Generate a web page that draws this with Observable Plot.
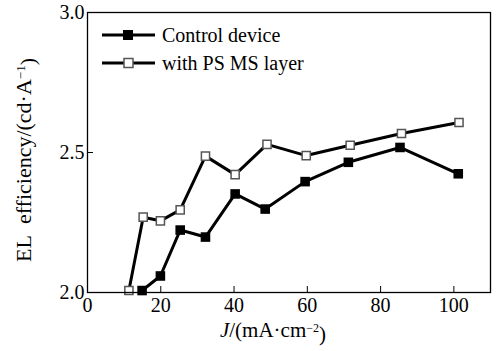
<!DOCTYPE html>
<html><head><meta charset="utf-8">
<script src="https://cdn.jsdelivr.net/npm/d3@7"></script>
<script src="https://cdn.jsdelivr.net/npm/@observablehq/plot@0.6"></script>
<style>
body{margin:0;background:#fff}
svg, svg text { font-family: "Liberation Serif", "DejaVu Serif", serif !important; }
</style>
</head><body><div id="chart"></div>
<script>
const controlJ   = [14.9, 19.9, 25.3, 32.2, 40.3, 48.5, 59.4, 71.2, 85.3, 101.2];
const controlEff = [2.007, 2.059, 2.223, 2.198, 2.352, 2.298, 2.396, 2.465, 2.518, 2.424];
const psJ   = [11.3, 15.2, 19.9, 25.3, 32.2, 40.3, 49.0, 59.7, 71.7, 85.7, 101.4];
const psEff = [2.007, 2.269, 2.256, 2.295, 2.487, 2.421, 2.529, 2.489, 2.526, 2.568, 2.607];
const xTicks = [0, 20, 40, 60, 80, 100];
const yTicks = [2.0, 2.5, 3.0];
const seriesNames = ["Control device", "with PS MS layer"];

const control = controlJ.map((j, i) => ({j, e: controlEff[i]}));
const ps = psJ.map((j, i) => ({j, e: psEff[i]}));

const W = 500, H = 351, mL = 87, mR = 10, mT = 12, mB = 59;
const innerW = W - mL - mR, innerH = H - mT - mB;
const font = "Liberation Serif, DejaVu Serif, serif";

const plot = Plot.plot({
  width: W, height: H,
  marginLeft: mL, marginRight: mR, marginTop: mT, marginBottom: mB,
  style: {fontFamily: font, background: "#fff", color: "#000", overflow: "visible"},
  x: {domain: [0, 110]},
  y: {domain: [2, 3]},
  marks: [
    Plot.ruleX(xTicks.slice(1), {insetTop: innerH - 6, stroke: "#000", strokeWidth: 1}),
    Plot.ruleY(yTicks.slice(1, 2), {insetRight: innerW - 6, stroke: "#000", strokeWidth: 1}),
    Plot.axisX({ticks: xTicks, tickSize: 0, tickPadding: 5, fontSize: 20, label: null, tickFormat: d => String(d)}),
    Plot.axisY({ticks: yTicks, tickSize: 0, tickPadding: 3, fontSize: 20, label: null, tickFormat: d3.format(".1f")}),
    Plot.line(ps, {x: "j", y: "e", stroke: "#000", strokeWidth: 3}),
    Plot.line(control, {x: "j", y: "e", stroke: "#000", strokeWidth: 3}),
    Plot.dot(ps, {x: "j", y: "e", symbol: "square", r: 4.6, fill: "#fff", stroke: "#555", strokeWidth: 1.5}),
    Plot.dot(control, {x: "j", y: "e", symbol: "square", r: 5.4, fill: "#000", stroke: "none"}),
    Plot.frame({stroke: "#000", strokeWidth: 1.3})
  ]
});
document.getElementById("chart").append(plot);

const svg = d3.select(plot);
// Y axis label
const yl = svg.append("text")
  .attr("transform", "translate(31,160) rotate(-90)")
  .attr("text-anchor", "middle")
  .style("font-size", "22px").attr("fill", "#000");
yl.append("tspan").text("EL\u00a0\u00a0efficiency/(cd\u00b7A");
yl.append("tspan").attr("dy", "-0.45em").style("font-size", "13px").text("\u22121");
yl.append("tspan").attr("dy", "0.45em").text(")");

// X axis label
const xl = svg.append("text")
  .attr("x", 273).attr("y", 337)
  .attr("text-anchor", "middle")
  .style("font-size", "21px").attr("fill", "#000");
xl.append("tspan").style("font-style", "italic").text("J");
xl.append("tspan").text("/(mA\u00b7cm");
xl.append("tspan").attr("dy", "-0.45em").style("font-size", "12px").text("\u22122");
xl.append("tspan").attr("dy", "0.45em").text(")");

// Legend
const lg = svg.append("g").attr("text-anchor", "start");
const legendY = [35, 63];
seriesNames.forEach((name, i) => {
  const y = legendY[i];
  lg.append("line").attr("x1", 102).attr("x2", 155).attr("y1", y).attr("y2", y)
    .attr("stroke", "#000").attr("stroke-width", 3);
  if (i === 0) {
    lg.append("rect").attr("x", 123).attr("y", y - 5).attr("width", 10).attr("height", 10).attr("fill", "#000");
  } else {
    lg.append("rect").attr("x", 124).attr("y", y - 4.5).attr("width", 9).attr("height", 9)
      .attr("fill", "#fff").attr("stroke", "#555").attr("stroke-width", 1.5);
  }
  lg.append("text").attr("x", 162).attr("y", y + 7).attr("text-anchor", "start")
    .style("font-size", "20px").attr("fill", "#000").text(name);
});
</script>
</body></html>
